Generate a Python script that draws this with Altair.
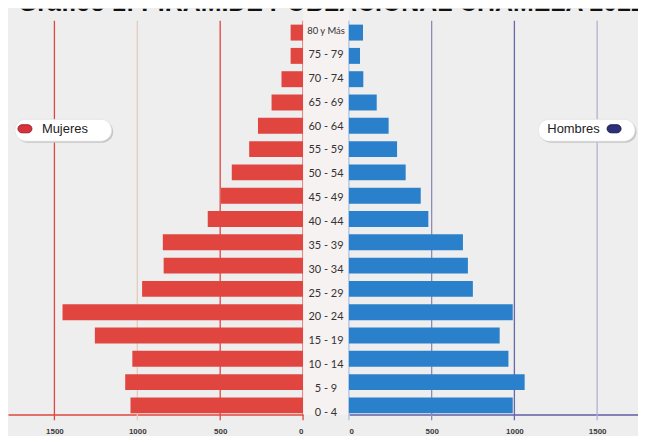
import altair as alt
import pandas as pd

# ---------------- data ----------------
ages = ["80 y Más", "75 - 79", "70 - 74", "65 - 69", "60 - 64", "55 - 59",
        "50 - 54", "45 - 49", "40 - 44", "35 - 39", "30 - 34", "25 - 29",
        "20 - 24", "15 - 19", "10 - 14", "5 - 9", "0 - 4"]
mujeres = [75, 75, 130, 190, 272, 325, 430, 495, 575, 846, 841, 971,
           1451, 1256, 1030, 1073, 1041]
hombres = [85, 67, 87, 168, 240, 291, 343, 434, 480, 689, 719, 749,
           990, 911, 964, 1062, 990]
tick_values = [0, 500, 1000, 1500]
left_line_colors = ["#e0463f", "#e0463f", "#e6cbbd", "#e0463f"]
right_line_colors = ["#a9c3e3", "#8e8cb2", "#6a66aa", "#b3b1cf"]
title_text = "Gráfico 1: PIRAMIDE POBLACIONAL CHAMELA 2022"
legend_labels = ["Mujeres", "Hombres"]

# ---------------- style ----------------
RED = "#e0463f"
BLUE = "#2a80ca"
AXIS_BLUE = "#5f5ca6"
H = 407
WL, WM, WR = 296, 46, 290

df = pd.DataFrame({"edad": ages, "Mujeres": mujeres, "Hombres": hombres})
left_lines = pd.DataFrame({"v": tick_values, "c": left_line_colors})
right_lines = pd.DataFrame({"v": tick_values, "c": right_line_colors})
title_df = pd.DataFrame({"t": [title_text]})

yscale = alt.Scale(domain=ages, paddingInner=0.316, paddingOuter=0.364, align=0.94)
xl_scale = alt.Scale(domain=[0, 1780], reverse=True, nice=False, zero=True)
xr_scale = alt.Scale(domain=[0, 1747], nice=False, zero=True)


def xaxis(color):
    return alt.Axis(values=tick_values, title=None, grid=False,
                    domainColor=color, domainWidth=1.5, ticks=False,
                    labelFont="Liberation Sans", labelFontSize=8,
                    labelFontWeight="bold", labelColor="#3a3a3a",
                    labelPadding=13, format="d")


def title_layer(dx):
    return alt.Chart(title_df).mark_text(
        clip=True, align="left", baseline="alphabetic",
        font="Liberation Sans", fontSize=25, fontWeight="bold", color="#111111"
    ).encode(x=alt.value(dx), y=alt.value(2), text="t:N")


def pill(label, x0, x1, icon_x0, icon_x1, text_x, icon_fill, icon_stroke):
    d = pd.DataFrame({"t": [label]})
    base = alt.Chart(d)
    shadow = base.mark_rect(cornerRadius=11, color="#c6c6c6").encode(
        x=alt.value(x0 + 1.5), x2=alt.value(x1 + 1.5),
        y=alt.value(112.5), y2=alt.value(134.5))
    box = base.mark_rect(cornerRadius=11, color="#ffffff", stroke="#dcdcdc",
                         strokeWidth=0.6).encode(
        x=alt.value(x0), x2=alt.value(x1), y=alt.value(111), y2=alt.value(133))
    icon = base.mark_rect(cornerRadius=4, color=icon_fill, stroke=icon_stroke,
                          strokeWidth=1).encode(
        x=alt.value(icon_x0), x2=alt.value(icon_x1),
        y=alt.value(116.5), y2=alt.value(124.5))
    txt = base.mark_text(align="left", baseline="middle", font="Liberation Sans",
                         fontSize=13, color="#222222").encode(
        x=alt.value(text_x), y=alt.value(121), text="t:N")
    return [shadow, box, icon, txt]


# ---------------- left (Mujeres) ----------------
left_rules = alt.Chart(left_lines).mark_rule(strokeWidth=1.3).encode(
    x=alt.X("v:Q", scale=xl_scale, axis=xaxis(RED)),
    y=alt.value(12), y2=alt.value(H + 6),
    color=alt.Color("c:N", scale=None))
left_bars = alt.Chart(df).mark_bar(color=RED).encode(
    x=alt.X("Mujeres:Q", scale=xl_scale, axis=xaxis(RED)),
    y=alt.Y("edad:N", scale=yscale, axis=None, sort=ages))
left = alt.layer(
    left_rules, left_bars,
    *pill(legend_labels[0], 7, 104, 10, 24, 34, "#d8333b", "#9e1f27"),
    title_layer(10)
).properties(width=WL, height=H)

# ---------------- middle (age labels) ----------------
mid_text = alt.Chart(df).mark_text(font="Lato", color="#333333").encode(
    y=alt.Y("edad:N", scale=yscale, axis=None, sort=ages),
    x=alt.value(WM / 2),
    text="edad:N",
    size=alt.condition(alt.datum.edad == "80 y Más", alt.value(9.5), alt.value(11)))
mid = alt.layer(mid_text, title_layer(10 - WL)).properties(
    width=WM, height=H, view=alt.ViewBackground(fill="#f6f2f2", stroke=None))

# ---------------- right (Hombres) ----------------
right_rules = alt.Chart(right_lines).mark_rule(strokeWidth=1.3).encode(
    x=alt.X("v:Q", scale=xr_scale, axis=xaxis(AXIS_BLUE)),
    y=alt.value(12), y2=alt.value(H + 6),
    color=alt.Color("c:N", scale=None))
right_bars = alt.Chart(df).mark_bar(color=BLUE).encode(
    x=alt.X("Hombres:Q", scale=xr_scale, axis=xaxis(AXIS_BLUE)),
    y=alt.Y("edad:N", scale=yscale, axis=None, sort=ages))
right = alt.layer(
    right_rules, right_bars,
    *pill(legend_labels[1], 190, 287, 259, 273, 199, "#2c2f7a", "#171a4d"),
    title_layer(10 - WL - WM)
).properties(width=WR, height=H)

chart = alt.hconcat(left, mid, right, spacing=0, bounds="flush").properties(
    padding=0, background="#eeeeee"
).configure_view(stroke=None)

chart.save("out.html", embed_options={"renderer": "svg", "actions": False})
